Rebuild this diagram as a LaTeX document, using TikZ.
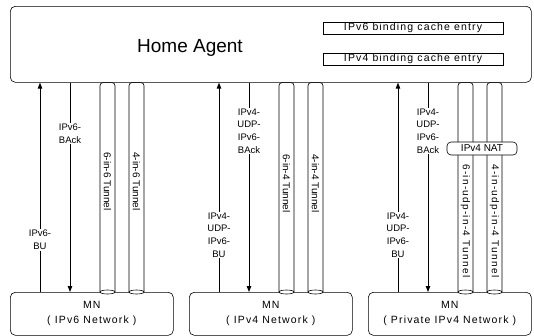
\documentclass[tikz,border=0pt]{standalone}
\usepackage{fontspec}
\setmainfont{Liberation Sans}
\newfontfamily\spc[LetterSpace=11]{Liberation Sans}
\newfontfamily\wide[LetterSpace=13]{Liberation Sans}
\usetikzlibrary{arrows.meta}
\begin{document}
\begin{tikzpicture}[x=1pt,y=-1pt,
  box/.style={draw, rounded corners=5pt, line width=0.6pt, inner sep=0pt},
  entry/.style={draw, line width=0.6pt, minimum width=180pt, minimum height=12pt, inner sep=0pt, font=\fontsize{10.5}{12}\spc},
  mnbox/.style={box, minimum width=163pt, minimum height=43pt, anchor=north west, align=center, font=\fontsize{10.5}{15}\spc},
  arr/.style={line width=0.9pt, -{Triangle[length=6pt,width=4.5pt]}},
  lbl/.style={fill=white, inner sep=1pt, align=center, font=\fontsize{9.5}{12.7}\selectfont},
  tube/.style={line width=0.6pt, rounded corners=3pt},
  tlbl/.style={rotate=-90, anchor=west, inner sep=0pt, font=\fontsize{10}{12}\selectfont},
  tlblw/.style={tlbl, font=\fontsize{10}{12}\wide},
]
\useasboundingbox (0,0) rectangle (534,335);
% Home agent
\node[box, minimum width=521pt, minimum height=76pt, anchor=north west] (ha) at (10,6) {};
\node[anchor=base, font=\fontsize{19}{22}\selectfont] (hatext) at (190,52) {Home Agent};
\node[entry] (e6) at (413,28) {IPv6 binding cache entry};
\node[entry] (e4) at (413,59) {IPv4 binding cache entry};
% MN boxes
\node[mnbox] (mn1) at (10,292) {MN\\( IPv6 Network )};
\node[mnbox] (mn2) at (189,292) {MN\\( IPv4 Network )};
\node[mnbox] (mn3) at (368,292) {MN\\( Private IPv4 Network )};
% coordinates
\foreach \i/\p in {1/0,2/179,3/358}{
  \coordinate (bu\i) at (40+\p,0);
  \coordinate (ba\i) at (70+\p,0);
  \coordinate (ta\i) at (100+\p,0);
  \coordinate (tb\i) at (115+\p,0);
  \coordinate (tc\i) at (129+\p,0);
  \coordinate (td\i) at (144+\p,0);
  \coordinate (tm\i) at (107.5+\p,0);
  \coordinate (tn\i) at (136.5+\p,0);
}
% arrows
\foreach \i in {1,2,3}{
  \draw[arr] (bu\i |- mn\i.north) -- (bu\i |- ha.south);
  \draw[arr] (ba\i |- ha.south) -- (ba\i |- mn\i.north);
  \draw[tube] (ta\i |- mn\i.north) -- (ta\i |- ha.south) -- (tb\i |- ha.south) -- (tb\i |- mn\i.north);
  \draw[tube] (tc\i |- mn\i.north) -- (tc\i |- ha.south) -- (td\i |- ha.south) -- (td\i |- mn\i.north);
  \draw[line width=0.6pt, fill=white] (tm\i |- mn\i.north) ellipse (7.5pt and 2pt);
  \draw[line width=0.6pt, fill=white] (tn\i |- mn\i.north) ellipse (7.5pt and 2pt);
}
% labels
\node[lbl] (l1a) at (70,133.5) {IPv6-\\BAck};
\node[lbl] (l1b) at (40,240) {IPv6-\\BU};
\node[lbl] (l2a) at (249,131) {IPv4-\\UDP-\\IPv6-\\BAck};
\node[lbl] (l2b) at (219,235) {IPv4-\\UDP-\\IPv6-\\BU};
\node[lbl] (l3a) at (428,131) {IPv4-\\UDP-\\IPv6-\\BAck};
\node[lbl] (l3b) at (398,235) {IPv4-\\UDP-\\IPv6-\\BU};
% tunnel labels
\node[tlbl] (t1a) at (107.5,152) {6-in-6 Tunnel};
\node[tlbl] (t1b) at (136.5,152) {4-in-6 Tunnel};
\node[tlbl] (t2a) at (286.5,154) {6-in-4 Tunnel};
\node[tlbl] (t2b) at (315.5,154) {4-in-4 Tunnel};
\node[tlblw] (t3a) at (465.5,164) {6-in-udp-in-4 Tunnel};
\node[tlblw] (t3b) at (494.5,164) {4-in-udp-in-4 Tunnel};
% NAT
\node[draw, fill=white, rounded corners=4pt, line width=0.6pt, minimum width=70pt, minimum height=13pt, inner sep=0pt, font=\fontsize{10}{12}\selectfont] (nat) at (482,148.5) {IPv4 NAT};
\end{tikzpicture}
\end{document}
